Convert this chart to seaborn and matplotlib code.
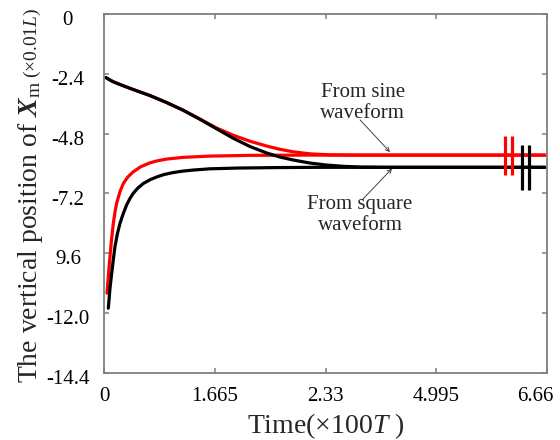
import numpy as np
import pandas as pd
import matplotlib
matplotlib.use("Agg")
import matplotlib.pyplot as plt
import matplotlib.transforms as mtransforms
import seaborn as sns

# ---- data ----
t_black_upper = [0.03, 0.065, 0.14, 0.29, 0.44, 0.69, 0.94, 1.19, 1.44, 1.69, 1.94, 2.19, 2.45, 2.65, 2.85, 3.10, 3.35, 3.60, 3.85, 4.20, 5.00, 6.63]
black_upper = [-2.55, -2.61, -2.72, -2.88, -3.03, -3.27, -3.55, -3.86, -4.22, -4.60, -4.98, -5.31, -5.58, -5.74, -5.86, -5.98, -6.06, -6.11, -6.14, -6.15, -6.15, -6.15]

t_red_upper = [0.03, 0.065, 0.14, 0.29, 0.44, 0.69, 0.94, 1.19, 1.44, 1.69, 1.94, 2.19, 2.45, 2.65, 2.85, 3.10, 3.40, 3.80, 5.00, 6.63]
red_upper = [-2.55, -2.61, -2.72, -2.88, -3.03, -3.27, -3.55, -3.86, -4.21, -4.57, -4.86, -5.10, -5.30, -5.43, -5.53, -5.61, -5.65, -5.66, -5.66, -5.66]

t_red_lower = [0.045, 0.07, 0.09, 0.115, 0.14, 0.165, 0.19, 0.24, 0.29, 0.36, 0.44, 0.55, 0.69, 0.80, 0.94, 1.19, 1.59, 2.20, 3.00, 5.00, 6.63]
red_lower = [-11.2, -10.35, -9.73, -9.0, -8.40, -7.95, -7.59, -7.13, -6.80, -6.53, -6.33, -6.13, -5.97, -5.89, -5.82, -5.75, -5.70, -5.67, -5.66, -5.66, -5.66]

t_black_lower = [0.065, 0.09, 0.116, 0.14, 0.165, 0.20, 0.24, 0.29, 0.34, 0.39, 0.44, 0.51, 0.59, 0.69, 0.79, 0.90, 1.04, 1.19, 1.34, 1.59, 2.00, 2.60, 3.20, 5.00, 6.63]
black_lower = [-11.80, -11.0, -10.40, -9.85, -9.33, -8.83, -8.40, -8.00, -7.66, -7.40, -7.19, -6.98, -6.80, -6.65, -6.54, -6.44, -6.36, -6.30, -6.26, -6.21, -6.18, -6.16, -6.15, -6.15, -6.15]

x_ticks = [0, 1.665, 3.33, 4.995, 6.66]
x_ticklabels = ["0", "1.665", "2.33", "4.995", "6.66"]
y_ticks = [0, -2.4, -4.8, -7.2, -9.6, -12.0, -14.4]
y_ticklabels = ["0", "-2.4", "-4.8", "-7.2", "9.6", "-12.0", "-14.4"]

# axis-break marks
red_break_x = [6.03, 6.13]
red_break_y = [-4.89, -6.46]
black_break_x = [6.29, 6.39]
black_break_y = [-5.25, -7.06]

# ---- style ----
sns.set_style("ticks")
plt.rcParams["font.family"] = ["Liberation Serif", "DejaVu Serif"]
plt.rcParams["mathtext.fontset"] = "custom"
plt.rcParams["mathtext.rm"] = "Liberation Serif"
plt.rcParams["mathtext.it"] = "Liberation Serif:italic"
plt.rcParams["mathtext.bf"] = "Liberation Serif:bold"
plt.rcParams["mathtext.bfit"] = "Liberation Serif:italic:bold"

fig = plt.figure(figsize=(5.6, 4.4), dpi=100)
ax = fig.add_axes([104 / 560, 1 - 373 / 440, 443 / 560, 359 / 440])

RED = "#ff0000"
BLACK = "#000000"
LW = 2.3

df_ru = pd.DataFrame({"t": t_red_upper, "v": red_upper})
df_rl = pd.DataFrame({"t": t_red_lower, "v": red_lower})
df_bu = pd.DataFrame({"t": t_black_upper, "v": black_upper})
df_bl = pd.DataFrame({"t": t_black_lower, "v": black_lower})

sns.lineplot(data=df_ru, x="t", y="v", color=RED, lw=LW, ax=ax)
sns.lineplot(data=df_rl, x="t", y="v", color=RED, lw=LW, ax=ax)
sns.lineplot(data=df_bl, x="t", y="v", color=BLACK, lw=LW, ax=ax)
sns.lineplot(data=df_bu, x="t", y="v", color=BLACK, lw=LW, ax=ax)

for bx in red_break_x:
    ax.plot([bx, bx], red_break_y, color=RED, lw=LW, solid_capstyle="butt")
for bx in black_break_x:
    ax.plot([bx, bx], black_break_y, color=BLACK, lw=LW, solid_capstyle="butt")

ax.set_ylim(-14.4, 0)
ax.set_xlim(0, 6.66)

ax.set_xticks(x_ticks)
ax.set_xticklabels(x_ticklabels)
ax.set_yticks(y_ticks)
ax.set_yticklabels(y_ticklabels)

for side in ["top", "right", "left", "bottom"]:
    ax.spines[side].set_visible(True)
    ax.spines[side].set_color("#7f7f7f")
    ax.spines[side].set_linewidth(1.3)

ax.tick_params(axis="both", which="both", direction="in", length=3.5, width=1.1,
               color="#7f7f7f", labelsize=15, labelcolor="black",
               top=True, right=True)
ax.tick_params(axis="y", pad=26)
ax.tick_params(axis="x", pad=10)

for lbl in ax.get_yticklabels():
    lbl.set_ha("center")
    lbl.set_transform(lbl.get_transform() +
                      mtransforms.ScaledTranslation(0, -4 / 100, fig.dpi_scale_trans))
last = ax.get_xticklabels()[-1]
last.set_transform(last.get_transform() +
                   mtransforms.ScaledTranslation(-12 / 100, 0, fig.dpi_scale_trans))

ax.set_xlabel(r"Time(×100$\mathit{T}$ )", fontsize=20, labelpad=4)
ax.set_ylabel("")

# annotations
arrow = dict(arrowstyle="->", color="#444444", lw=0.7, shrinkA=0, shrinkB=0, mutation_scale=7)
ax.annotate("", xy=(4.30, -5.54), xytext=(3.85, -4.25), arrowprops=arrow)
ax.text(3.89, -3.57, "From sine\nwaveform", ha="center", va="center", fontsize=15, linespacing=1.1)
ax.annotate("", xy=(4.33, -6.20), xytext=(3.88, -7.46), arrowprops=arrow)
ax.text(3.85, -8.06, "From square\nwaveform", ha="center", va="center", fontsize=15, linespacing=1.1)

# y label: main part + smaller unit part
ylab = fig.text(37 / 560, 1 - 383 / 440, r"The vertical position of $\mathbfit{X}_{\rm m}$",
                rotation=90, rotation_mode="anchor", ha="left", va="baseline", fontsize=20)
fig.canvas.draw()
bb = ylab.get_window_extent(renderer=fig.canvas.get_renderer())
fig.text(37 / 560, bb.y1 / (fig.get_size_inches()[1] * fig.dpi) + 0.006, r"(×0.01$L$)",
         rotation=90, rotation_mode="anchor", ha="left", va="baseline", fontsize=14)

fig.savefig("out.png", dpi=100)
